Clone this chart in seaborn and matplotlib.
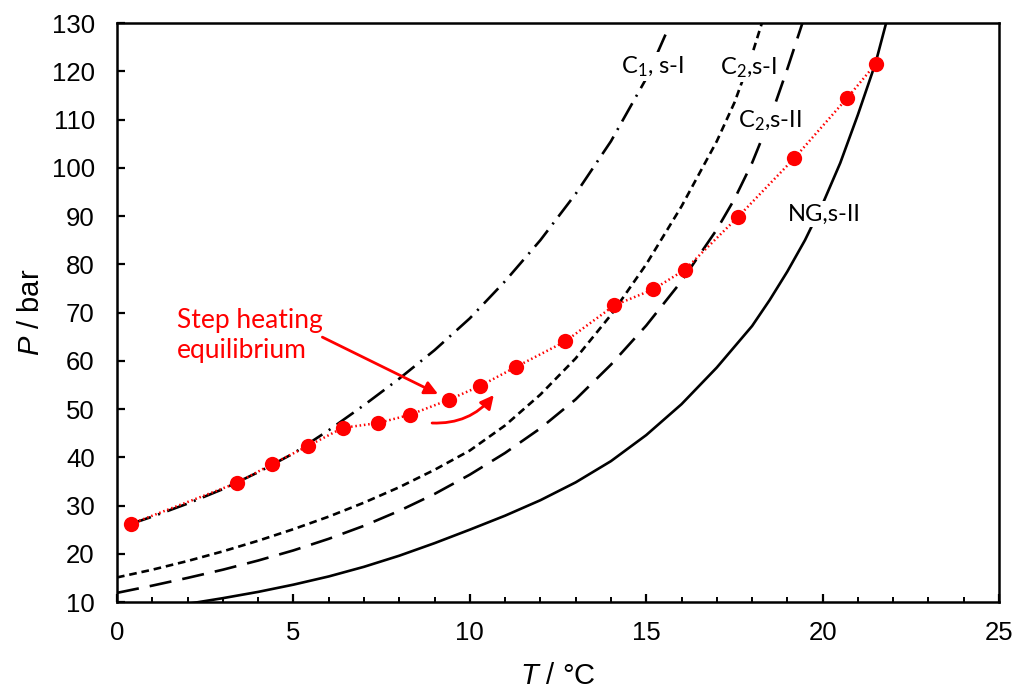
import matplotlib
matplotlib.use("Agg")
import matplotlib.pyplot as plt
from matplotlib.ticker import MultipleLocator
import seaborn as sns

# ---------------- data ----------------
c1_T = [0.4, 1.0, 2.0, 3.0, 4.0, 5.0, 6.0, 7.0, 8.0, 9.0, 10.0, 11.0, 12.0, 13.0, 14.0, 15.0, 15.6]
c1_P = [26.2, 27.7, 30.4, 33.4, 36.9, 40.8, 45.6, 50.8, 56.3, 62.2, 68.8, 76.5, 85.0, 94.6, 105.5, 118.5, 128.5]

c2sI_T = [0.0, 1.0, 2.0, 3.0, 4.0, 5.0, 6.0, 7.0, 8.0, 9.0, 10.0, 11.0, 12.0, 13.0, 14.0, 15.0, 16.0, 17.0, 17.5, 18.0, 18.3]
c2sI_P = [15.1, 16.7, 18.5, 20.5, 22.7, 25.1, 27.7, 30.6, 33.8, 37.4, 41.4, 46.6, 53.0, 60.5, 69.5, 80.0, 92.0, 105.5, 113.5, 123.5, 130.5]

c2sII_T = [0.0, 1.0, 2.0, 3.0, 4.0, 5.0, 6.0, 7.0, 8.0, 9.0, 10.0, 11.0, 12.0, 13.0, 14.0, 15.0, 16.0, 17.0, 17.5, 18.0, 18.5, 19.0, 19.45]
c2sII_P = [11.9, 13.4, 15.0, 16.7, 18.6, 20.7, 23.1, 25.8, 28.9, 32.4, 36.4, 40.9, 46.0, 52.0, 59.2, 67.3, 76.5, 87.2, 93.5, 101.0, 110.0, 120.5, 130.5]

ng_T = [1.9, 3.0, 4.0, 5.0, 6.0, 7.0, 8.0, 9.0, 10.0, 11.0, 12.0, 13.0, 14.0, 15.0, 16.0, 17.0, 18.0, 18.5, 19.0, 19.5, 20.0, 20.5, 21.0, 21.5, 21.8]
ng_P = [9.5, 10.8, 12.1, 13.6, 15.3, 17.3, 19.6, 22.2, 25.0, 27.9, 31.1, 34.8, 39.2, 44.6, 51.0, 58.6, 67.2, 72.6, 78.5, 85.0, 92.5, 101.0, 111.0, 121.7, 130.0]

exp_T = [0.4, 3.4, 4.4, 5.4, 6.4, 7.4, 8.3, 9.4, 10.3, 11.3, 12.7, 14.1, 15.2, 16.1, 17.6, 19.2, 20.7, 21.5]
exp_P = [26.2, 34.7, 38.6, 42.3, 46.1, 47.1, 48.8, 51.9, 54.8, 58.7, 64.0, 71.5, 74.8, 78.9, 89.8, 102.0, 114.5, 121.5]

curve_labels = ["C$_\\mathrm{1}$, s-I", "C$_\\mathrm{2}$,s-I", "C$_\\mathrm{2}$,s-II", "NG,s-II"]
label_T = [15.17, 17.9, 18.5, 20.06]
label_P = [120.9, 120.7, 109.7, 90.4]

x_ticks = [0, 5, 10, 15, 20, 25]
y_ticks = [10, 20, 30, 40, 50, 60, 70, 80, 90, 100, 110, 120, 130]

# ---------------- style ----------------
sns.set_theme(style="ticks")
plt.rcParams["font.family"] = ["Liberation Sans", "DejaVu Sans"]
plt.rcParams["mathtext.fontset"] = "custom"
plt.rcParams["mathtext.rm"] = "Lato"
plt.rcParams["mathtext.it"] = "Liberation Sans:italic"
plt.rcParams["lines.scale_dashes"] = False

fig = plt.figure(figsize=(10.33, 6.9), dpi=100)
ax = fig.add_axes([0.1133, 0.1275, 0.8538, 0.8391])

styles = [
    (c1_T, c1_P, (0, (15, 5.5, 1.5, 5.5))),
    (c2sI_T, c2sI_P, (0, (5.5, 3.5))),
    (c2sII_T, c2sII_P, (0, (16, 8))),
    (ng_T, ng_P, "-"),
]
for T, P, ls in styles:
    sns.lineplot(x=T, y=P, ax=ax, color="black", lw=1.9, linestyle=ls,
                 estimator=None, sort=False, errorbar=None, zorder=2)

sns.lineplot(x=exp_T, y=exp_P, ax=ax, color="red", lw=1.8, linestyle=(0, (1.1, 2.0)),
             marker="o", markersize=11, markeredgewidth=0, markerfacecolor="red",
             estimator=None, sort=False, errorbar=None, zorder=5)

for s, t, p in zip(curve_labels, label_T, label_P):
    ax.text(t, p, s, fontsize=17, family="Lato", ha="center", va="center", color="black",
            zorder=3, bbox=dict(facecolor="white", edgecolor="none", pad=1.5))

ax.text(1.7, 65.3, "Step heating\nequilibrium", fontsize=19, family="Lato", color="red",
        ha="left", va="center", linespacing=1.25, zorder=6)
ax.annotate("", xy=(9.1, 53.1), xytext=(5.82, 64.9),
            arrowprops=dict(arrowstyle="-|>", color="red", lw=2, mutation_scale=20,
                            shrinkA=0, shrinkB=0), zorder=6)
ax.annotate("", xy=(10.68, 52.9), xytext=(8.93, 47.1),
            arrowprops=dict(arrowstyle="-|>", color="red", lw=2, mutation_scale=20,
                            shrinkA=0, shrinkB=0, connectionstyle="arc3,rad=0.25"), zorder=6)

ax.set_xlim(0, 25)
ax.set_ylim(10, 130)
ax.set_xticks(x_ticks)
ax.set_yticks(y_ticks)
ax.xaxis.set_minor_locator(MultipleLocator(1))

for sp in ax.spines.values():
    sp.set_visible(True)
    sp.set_color("black")
    sp.set_linewidth(1.8)

ax.tick_params(axis="both", which="major", direction="in", length=6, width=1.6,
               color="black", labelcolor="black", labelsize=18.5,
               bottom=True, left=True, top=False, right=False)
ax.tick_params(axis="x", which="minor", direction="in", length=3.8, width=1.4,
               color="black", bottom=True, top=False)
ax.tick_params(axis="x", which="major", pad=14)
ax.tick_params(axis="y", which="major", pad=16)

ax.set_xlabel("$\\mathit{T}$ / °C", fontsize=21, labelpad=12, color="black")
ax.set_ylabel("$\\mathit{P}$ / bar", fontsize=21, labelpad=5, color="black")

fig.savefig("out.png", dpi=100)
